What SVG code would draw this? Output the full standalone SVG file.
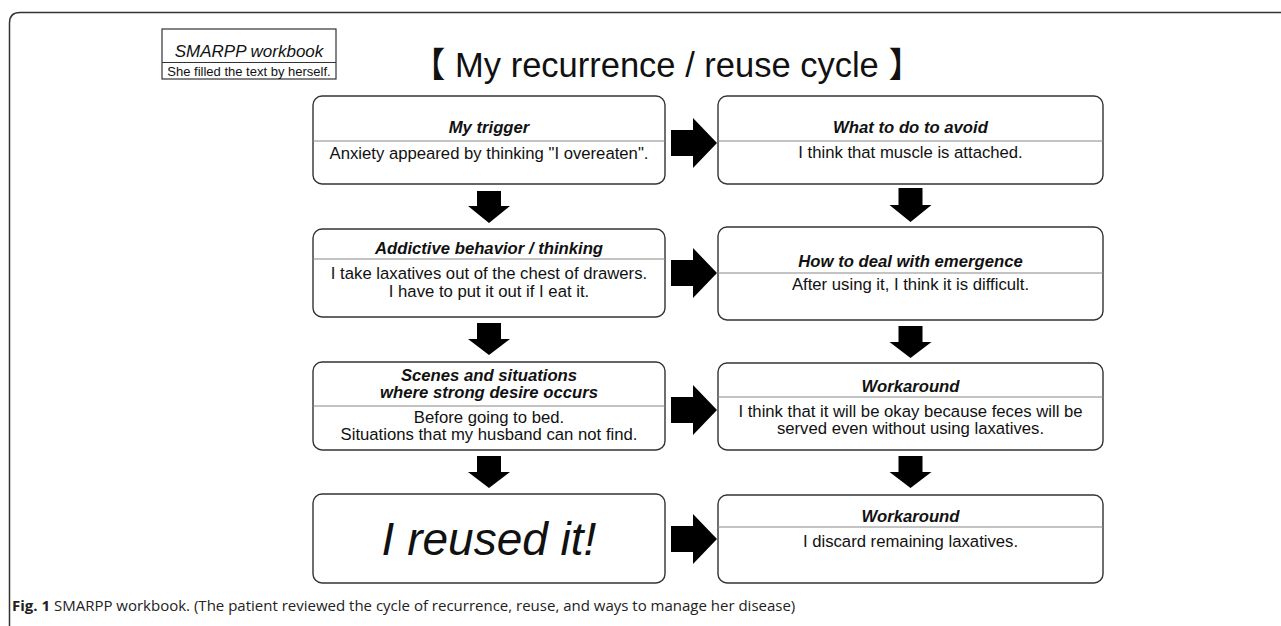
<svg xmlns="http://www.w3.org/2000/svg" width="1281" height="626" viewBox="0 0 1281 626">
<style>
.box{fill:#fff;stroke:#333;stroke-width:1.4}
.div{stroke:#888;stroke-width:1.2}
.t{font-family:"Liberation Sans",Arial,sans-serif;font-size:16.7px;fill:#111;text-anchor:middle}
.h{font-weight:bold;font-style:italic}
.arr{fill:#000}
</style>
<rect width="1281" height="626" fill="#fff"/>
<path d="M9.5,626 V23 Q9.5,12.5 20,12.5 H1281" fill="none" stroke="#333" stroke-width="1.5"/>

<g id="workbook-label">
<rect x="162" y="29" width="174" height="50" fill="#fff" stroke="#333" stroke-width="1.2"/>
<line x1="162" y1="62.5" x2="336" y2="62.5" stroke="#333" stroke-width="1.2"/>
<text x="249" y="57" class="t" style="font-size:17px;font-style:italic">SMARPP workbook</text>
<text x="249" y="75.5" class="t" style="font-size:13px">She filled the text by herself.</text>
</g>

<g id="title">
<text x="411" y="77" style="font-family:'Liberation Sans','Noto Sans CJK JP',sans-serif;font-size:34.5px;fill:#111">【 My recurrence / reuse cycle 】</text>
</g>

<g id="my-trigger">
<rect class="box" x="313" y="96" width="352" height="88" rx="9"/>
<line class="div" x1="313" y1="141" x2="665" y2="141"/>
<text class="t h" x="489" y="133">My trigger</text>
<text class="t" x="489" y="159">Anxiety appeared by thinking "I overeaten".</text>
</g>

<g id="what-to-do">
<rect class="box" x="718" y="96" width="385" height="88" rx="9"/>
<line class="div" x1="718" y1="141" x2="1103" y2="141"/>
<text class="t h" x="910.5" y="133">What to do to avoid</text>
<text class="t" x="910.5" y="158">I think that muscle is attached.</text>
</g>

<g id="addictive">
<rect class="box" x="313" y="229" width="352" height="88" rx="9"/>
<line class="div" x1="313" y1="259" x2="665" y2="259"/>
<text class="t h" x="489" y="254">Addictive behavior / thinking</text>
<text class="t" x="489" y="279">I take laxatives out of the chest of drawers.</text>
<text class="t" x="489" y="297">I have to put it out if I eat it.</text>
</g>

<g id="emergence">
<rect class="box" x="718" y="227" width="385" height="93" rx="9"/>
<line class="div" x1="718" y1="273" x2="1103" y2="273"/>
<text class="t h" x="910.5" y="267">How to deal with emergence</text>
<text class="t" x="910.5" y="290">After using it, I think it is difficult.</text>
</g>

<g id="scenes">
<rect class="box" x="313" y="362" width="352" height="88" rx="9"/>
<line class="div" x1="313" y1="406" x2="665" y2="406"/>
<text class="t h" x="489" y="381">Scenes and situations</text>
<text class="t h" x="489" y="398">where strong desire occurs</text>
<text class="t" x="489" y="423">Before going to bed.</text>
<text class="t" x="489" y="440">Situations that my husband can not find.</text>
</g>

<g id="workaround-1">
<rect class="box" x="718" y="363" width="385" height="87" rx="9"/>
<line class="div" x1="718" y1="397" x2="1103" y2="397"/>
<text class="t h" x="910.5" y="392">Workaround</text>
<text class="t" x="910.5" y="417">I think that it will be okay because feces will be</text>
<text class="t" x="910.5" y="434">served even without using laxatives.</text>
</g>

<g id="reused">
<rect class="box" x="313" y="494" width="352" height="89" rx="9"/>
<text class="t" x="489" y="555" style="font-size:46px;font-style:italic">I reused it!</text>
</g>

<g id="workaround-2">
<rect class="box" x="718" y="495" width="385" height="88" rx="9"/>
<line class="div" x1="718" y1="527" x2="1103" y2="527"/>
<text class="t h" x="910.5" y="522">Workaround</text>
<text class="t" x="910.5" y="547">I discard remaining laxatives.</text>
</g>

<g id="connectors">
<path class="arr" d="M671,130 H693 V118 L717,143 L693,168 V156 H671 Z"/>
<path class="arr" d="M671,260 H693 V248 L717,273 L693,298 V286 H671 Z"/>
<path class="arr" d="M671,397 H693 V385 L717,410 L693,435 V423 H671 Z"/>
<path class="arr" d="M671,526 H693 V514 L717,539 L693,564 V552 H671 Z"/>
<path class="arr" d="M477,191 V206 H468 L489,223 L510,206 H501 V191 Z"/>
<path class="arr" d="M477,323 V339 H468 L489,355 L510,339 H501 V323 Z"/>
<path class="arr" d="M477,456 V472 H468 L489,488 L510,472 H501 V456 Z"/>
<path class="arr" d="M898.5,188 V205 H889.5 L910.5,222 L931.5,205 H922.5 V188 Z"/>
<path class="arr" d="M898.5,326 V342 H889.5 L910.5,358 L931.5,342 H922.5 V326 Z"/>
<path class="arr" d="M898.5,456 V472 H889.5 L910.5,488 L931.5,472 H922.5 V456 Z"/>
</g>

<g id="caption">
<text x="12" y="611" style="font-family:'Open Sans','Noto Sans',sans-serif;font-size:15px;fill:#222"><tspan font-weight="bold">Fig. 1</tspan> SMARPP workbook. (The patient reviewed the cycle of recurrence, reuse, and ways to manage her disease)</text>
</g>
</svg>
